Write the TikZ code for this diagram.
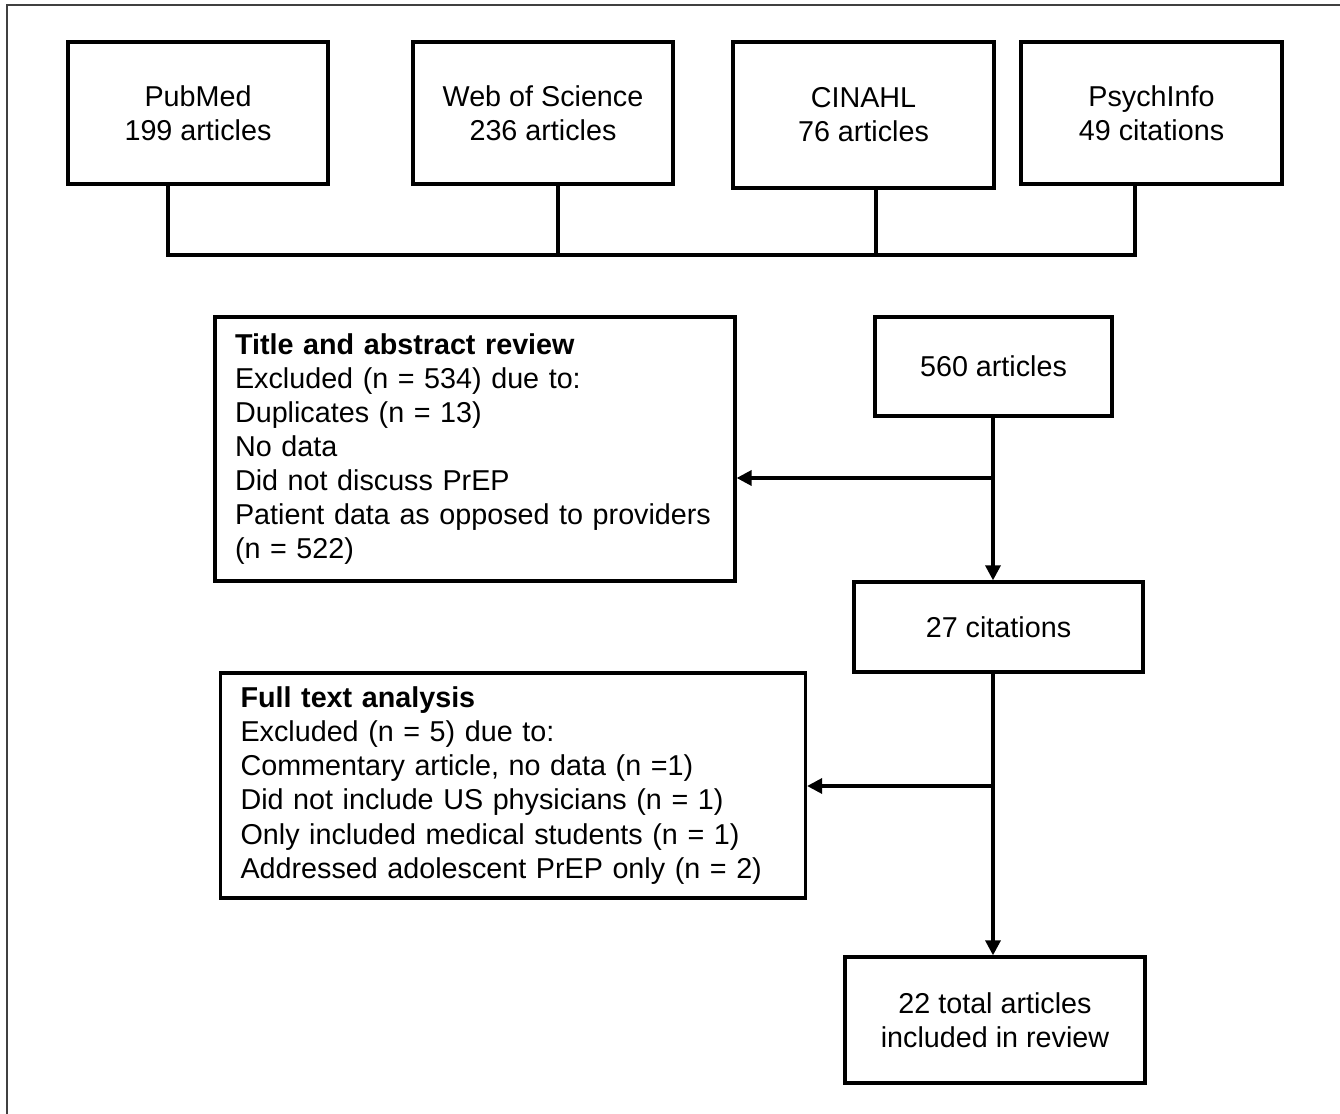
\documentclass[tikz,border=0pt]{standalone}
\usepackage{fontspec}
\setmainfont{Liberation Sans}
\usetikzlibrary{arrows.meta}
\tikzset{
	box/.style={draw, line width=1.9pt, align=center, font=\fontsize{16.35}{19.4}\selectfont},
	listbox/.style={box, align=left, inner xsep=0.4cm},
	link/.style={line width=1.9pt},
	arrow/.style={link, -{Triangle[length=0.3cm, width=0.3cm]}}
}

\begin{document}
\begin{tikzpicture}[x=0.02cm, y=-0.02cm]
			%%%%% START %%%%%
			
			\useasboundingbox (0, 0) rectangle (1340, 1114);
			\draw[line width=1.2pt, color=black!75] (1340, 5) -- (7, 5) -- (7, 1114);
			
			\node[box, minimum width=5.2cm, minimum height=2.84cm] (pubmed) at (198, 113) {PubMed\\199 articles};
			\node[box, minimum width=5.2cm, minimum height=2.84cm] (wos) at (543, 113) {Web of Science\\236 articles};
			\node[box, minimum width=5.22cm, minimum height=2.92cm] (cinahl) at (863.5, 115) {CINAHL\\76 articles};
			\node[box, minimum width=5.22cm, minimum height=2.84cm] (psych) at (1151.5, 113) {PsychInfo\\49 citations};
			
			\coordinate (join) at (0, 255);
			\coordinate (pm) at ([xshift=-0.6cm]pubmed.south);
			\coordinate (ws) at ([xshift=0.3cm]wos.south);
			\coordinate (ci) at ([xshift=0.25cm]cinahl.south);
			\coordinate (ps) at ([xshift=-0.33cm]psych.south);
			\draw[link] (pm) |- (ps |- join) -- (ps);
			\draw[link] (ws) -- (ws |- join);
			\draw[link] (ci) -- (ci |- join);
			
			\node[box, minimum width=4.74cm, minimum height=1.98cm] (found) at (993.5, 366.5) {560 articles};
			\node[listbox, text width=9.6cm, minimum height=5.28cm] (title) at (475, 449) {\textbf{Title and abstract review}\\Excluded (n = 534) due to:\\Duplicates (n = 13)\\No data\\Did not discuss PrEP\\Patient data as opposed to providers\\(n = 522)};
			
			\node[box, minimum width=5.78cm, minimum height=1.8cm] (cited) at (998.5, 627) {27 citations};
			\node[listbox, text width=10.9cm, minimum height=4.5cm] (full) at (513, 785.5) {\textbf{Full text analysis}\\Excluded (n = 5) due to:\\Commentary article, no data (n =1)\\Did not include US physicians (n = 1)\\Only included medical students (n = 1)\\Addressed adolescent PrEP only (n = 2)};
			
			\node[box, minimum width=6cm, minimum height=2.52cm] (total) at (995, 1020) {22 total articles\\included in review};
			
			\coordinate (br1) at (993, 478);
			\coordinate (br2) at (993, 786);
			\draw[arrow] (found.south -| br1) -- (br1 |- cited.north);
			\draw[arrow] (br1) -- (br1 -| title.east);
			\draw[arrow] (cited.south -| br2) -- (br2 |- total.north);
			\draw[arrow] (br2) -- (br2 -| full.east);
			
			%%%%% END %%%%%
		\end{tikzpicture}
\end{document}
